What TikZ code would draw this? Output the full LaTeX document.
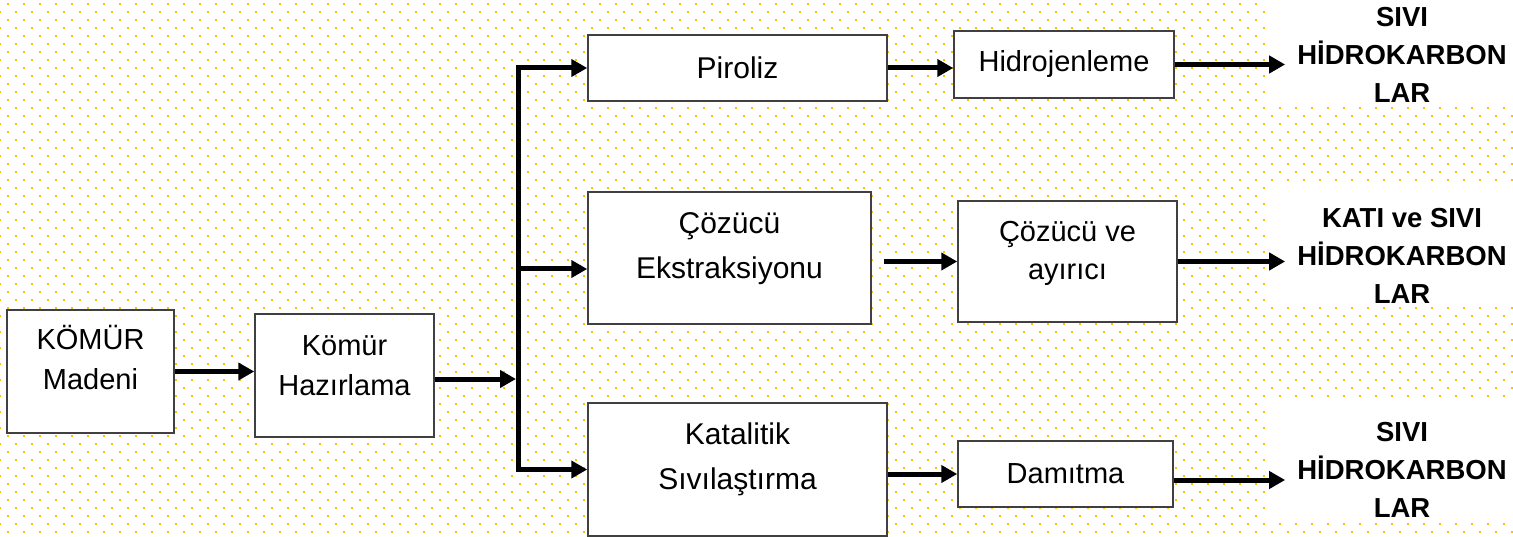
\documentclass[tikz,border=0pt]{standalone}
\usepackage{fontspec}
\setmainfont{Liberation Sans}
\usetikzlibrary{arrows.meta}
\definecolor{dotyellow}{RGB}{255,192,0}
\definecolor{boxgray}{RGB}{64,64,64}

\begin{document}
\begin{tikzpicture}[x=1pt,y=-1pt]
\tikzstyle{every node}=[font=\fontsize{29}{40}\selectfont]
\tikzstyle{box}=[draw=boxgray, line width=1.5pt, fill=white, inner sep=0pt]
\tikzstyle{txt}=[align=center, inner sep=0pt]
\tikzstyle{bigtxt}=[align=center, inner sep=0pt, font=\fontsize{30}{45}\selectfont]
\tikzstyle{flow}=[line width=5pt, -{Triangle[length=16pt,width=17pt]}]
\tikzstyle{dotrow}=[dotyellow, line width=2pt, dash pattern=on 2pt off 14pt]
\tikzstyle{result}=[align=center, inner ysep=0pt, inner xsep=12pt, font=\fontsize{27.5}{38}\selectfont\bfseries]
\useasboundingbox (0,0) rectangle (1513,537);
% dotted background
\foreach \k in {0,...,66} {
  \pgfmathsetmacro{\rowy}{4+8*\k}
  \pgfmathsetmacro{\phase}{8*mod(\k+1,2)}
  \draw[dotrow, dash phase=\phase] (-1,\rowy) -- (1514,\rowy);
}
\fill[white] (1266,0) rectangle (1513,105);
\fill[white] (1266,184) rectangle (1513,305);
\fill[white] (1266,399) rectangle (1513,520);
% boxes
\node[box, minimum width=167pt, minimum height=123pt] (madeni) at (90.5,371.5) {};
\node[box, minimum width=179pt, minimum height=123pt] (hazirlama) at (344.5,375.5) {};
\node[box, minimum width=299pt, minimum height=66pt] (piroliz) at (737.5,68) {};
\node[box, minimum width=283pt, minimum height=132pt] (cozucu) at (729.5,258) {};
\node[box, minimum width=299pt, minimum height=133pt] (katalitik) at (737.5,469.5) {};
\node[box, minimum width=220pt, minimum height=67pt] (hidro) at (1064,64.5) {};
\node[box, minimum width=219pt, minimum height=121pt] (ayirici) at (1067.5,261.5) {};
\node[box, minimum width=215pt, minimum height=66pt] (damitma) at (1065.5,474) {};
% box texts
\node[txt] (madeni-t) at ([yshift=13.5pt]madeni.center) {KÖMÜR\\Madeni};
\node[txt] (hazirlama-t) at ([yshift=10pt]hazirlama.center) {Kömür\\Hazırlama};
\node[bigtxt] (piroliz-t) at (piroliz.center) {Piroliz};
\node[bigtxt] (cozucu-t) at ([yshift=9pt]cozucu.center) {Çözücü\\Ekstraksiyonu};
\node[bigtxt] (katalitik-t) at ([yshift=10.5pt]katalitik.center) {Katalitik\\Sıvılaştırma};
\node[txt] (hidro-t) at (hidro.center) {Hidrojenleme};
\node[txt, font=\fontsize{29}{38}\selectfont] (ayirici-t) at ([yshift=8.5pt]ayirici.center) {Çözücü ve\\ayırıcı};
\node[txt] (damitma-t) at (damitma.center) {Damıtma};
% products
\node[result] (out1) at (1402,55) {SIVI\\HİDROKARBON\\LAR};
\node[result] (out2) at (1402,255.5) {KATI ve SIVI\\HİDROKARBON\\LAR};
\node[result] (out3) at (1402,470) {SIVI\\HİDROKARBON\\LAR};
% flow
\coordinate (split) at (518,379);
\draw[flow] (madeni.east) -- (madeni.east -| hazirlama.west);
\draw[flow, shorten >=2pt] (hazirlama.east |- split) -- (split);
\draw[flow] (split) |- (piroliz.west);
\draw[flow] (split) |- ([yshift=-11pt]cozucu.west);
\draw[flow] (split) |- (katalitik.west);
\draw[flow] (piroliz.east) -- (piroliz.east -| hidro.west);
\draw[flow, shorten <=12pt] (ayirici.west -| cozucu.east) -- (ayirici.west);
\draw[flow] (damitma.west -| katalitik.east) -- (damitma.west);
\draw[flow] (hidro.east) -- (hidro.east -| out1.west);
\draw[flow] (ayirici.east) -- (ayirici.east -| out2.west);
\draw[flow] ([yshift=-6pt]damitma.east) -- ([yshift=-6pt]damitma.east -| out3.west);
\end{tikzpicture}
\end{document}
